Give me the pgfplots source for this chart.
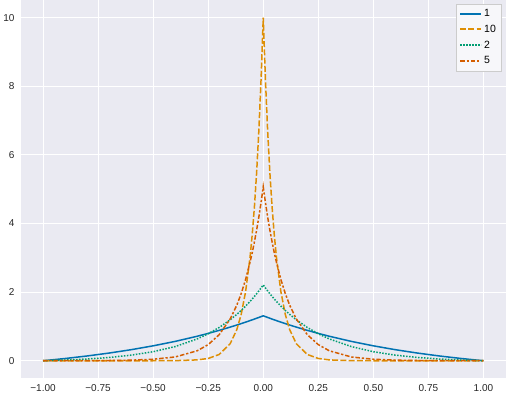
\documentclass[border=0pt]{standalone}
\usepackage{pgfplots}
\pgfplotsset{compat=1.18}
\usepackage{pgfplotstable}
\usepackage{fontspec}
\setmainfont{Liberation Sans}

\definecolor{sbblue}{HTML}{0173B2}
\definecolor{sborange}{HTML}{DE8F05}
\definecolor{sbgreen}{HTML}{029E73}
\definecolor{sbred}{HTML}{D55E00}
\definecolor{sbbg}{HTML}{EAEAF2}
\definecolor{legbg}{HTML}{F7F7FA}

\tikzset{
  s1/.style={sbblue, solid, line width=1.5bp},
  s10/.style={sborange, dash pattern=on 6bp off 2.25bp, line width=1.5bp},
  s2/.style={sbgreen, dash pattern=on 1.5bp off 1.5bp, line width=1.5bp},
  s5/.style={sbred, dash pattern=on 4.5bp off 1.9bp on 2.25bp off 1.9bp, line width=1.5bp},
}

% x, lambda=1, lambda=10, lambda=2, lambda=5
\pgfplotstableread{
x      a1     a10    a2     a5
-1.00  0.000  0.000  0.000  0.000
-0.90  0.065  0.000  0.020  0.001
-0.80  0.139  0.000  0.050  0.003
-0.70  0.224  0.000  0.096  0.007
-0.60  0.322  0.000  0.163  0.017
-0.50  0.435  0.000  0.263  0.044
-0.40  0.564  0.003  0.413  0.110
-0.30  0.714  0.025  0.636  0.290
-0.25  0.797  0.067  0.786  0.470
-0.20  0.886  0.183  0.970  0.760
-0.15  0.981  0.498  1.194  1.220
-0.12  1.041  0.907  1.351  1.620
-0.10  1.083  1.353  1.467  1.960
-0.08  1.126  2.019  1.593  2.370
-0.06  1.170  3.012  1.729  2.870
-0.05  1.193  3.679  1.801  3.150
-0.04  1.215  4.493  1.876  3.470
-0.03  1.239  5.488  1.954  3.810
-0.02  1.262  6.703  2.036  4.190
-0.01  1.286  8.187  2.120  4.610
 0.00  1.310 10.000  2.210  5.070
 0.01  1.286  8.187  2.120  4.610
 0.02  1.262  6.703  2.036  4.190
 0.03  1.239  5.488  1.954  3.810
 0.04  1.215  4.493  1.876  3.470
 0.05  1.193  3.679  1.801  3.150
 0.06  1.170  3.012  1.729  2.870
 0.08  1.126  2.019  1.593  2.370
 0.10  1.083  1.353  1.467  1.960
 0.12  1.041  0.907  1.351  1.620
 0.15  0.981  0.498  1.194  1.220
 0.20  0.886  0.183  0.970  0.760
 0.25  0.797  0.067  0.786  0.470
 0.30  0.714  0.025  0.636  0.290
 0.40  0.564  0.003  0.413  0.110
 0.50  0.435  0.000  0.263  0.044
 0.60  0.322  0.000  0.163  0.017
 0.70  0.224  0.000  0.096  0.007
 0.80  0.139  0.000  0.050  0.003
 0.90  0.065  0.000  0.020  0.001
 1.00  0.000  0.000  0.000  0.000
}\curves

\begin{document}
\begin{tikzpicture}
\begin{axis}[
  scale only axis,
  width=484bp, height=377bp,
  xmin=-1.1, xmax=1.1,
  ymin=-0.5, ymax=10.5,
  axis background/.style={fill=sbbg},
  axis line style={draw=none},
  tick style={draw=none},
  grid=major,
  major grid style={white, line width=1bp},
  xtick={-1,-0.75,-0.5,-0.25,0,0.25,0.5,0.75,1},
  xticklabels={−1.00,−0.75,−0.50,−0.25,0.00,0.25,0.50,0.75,1.00},
  ytick={0,2,4,6,8,10},
  /pgf/number format/assume math mode=true,
  ticklabel style={font=\fontsize{10bp}{12bp}\selectfont, text=black!85},
  xticklabel style={yshift=-3bp},
  yticklabel style={xshift=-3bp},
  legend style={at={(rel axis cs:0.992,0.992)}, anchor=north east,
    fill=legbg, draw=black!20,
    font=\fontsize{10.5bp}{12bp}\selectfont,
    row sep=3bp, inner sep=3.5bp},
  legend cell align=left,
  legend image code/.code={\draw[#1, line width=2bp] (0bp,0bp) -- (21bp,0bp);},
]
\addplot[s1, forget plot] table[x=x, y=a1] {\curves};
\addplot[s10, forget plot] table[x=x, y=a10] {\curves};
\addplot[s2, forget plot] table[x=x, y=a2] {\curves};
\addplot[s5, forget plot] table[x=x, y=a5] {\curves};
\addlegendimage{s1}
\addlegendentry{1}
\addlegendimage{s10}
\addlegendentry{10}
\addlegendimage{s2}
\addlegendentry{2}
\addlegendimage{s5}
\addlegendentry{5}
\end{axis}
\end{tikzpicture}
\end{document}
